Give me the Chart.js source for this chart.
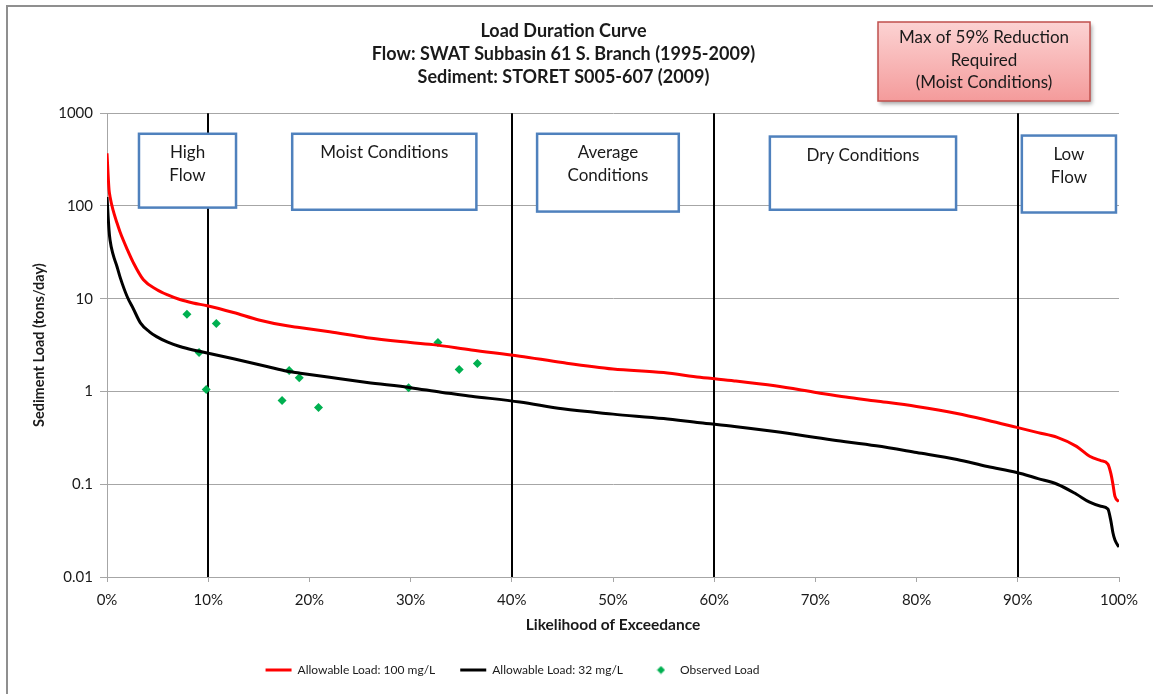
<!DOCTYPE html>
<html>
<head>
<meta charset="utf-8">
<script src="https://cdn.jsdelivr.net/npm/chart.js@4.4.1/dist/chart.umd.min.js"></script>
<style>
  html, body { margin: 0; padding: 0; background: #fff; }
  #wrap { width: 1153px; height: 694px; }
</style>
</head>
<body>
<div id="wrap"><canvas id="ldc" width="1153" height="694"></canvas></div>
<script>
// ---- data ----
const redPct = [0, 0.2, 0.3, 0.6, 1.0, 1.3, 2.0, 2.6, 3.6, 4.9, 6.0, 7.2, 8.5, 9.9, 12.5, 15, 17.8, 19, 22, 25.7, 29, 32.2, 36, 40.8, 45, 50, 55, 58.6, 62, 66, 70.2, 73, 76, 80, 84, 87, 89.9, 92, 93.9, 95.8, 97.1, 98.2, 98.9, 99.2, 99.4, 99.6, 100];
const redLoad = [370, 150, 126, 90, 65, 52, 34, 24.5, 16, 12.6, 11, 9.8, 9.0, 8.4, 7.1, 5.9, 5.1, 4.9, 4.4, 3.8, 3.45, 3.2, 2.8, 2.4, 2.05, 1.75, 1.6, 1.42, 1.3, 1.15, 0.97, 0.87, 0.79, 0.69, 0.58, 0.49, 0.41, 0.36, 0.32, 0.256, 0.2, 0.18, 0.165, 0.13, 0.1, 0.074, 0.065];

const blackPct = [0, 0.2, 0.3, 0.6, 1.0, 1.3, 2.0, 2.6, 3.3, 4.2, 4.9, 6.0, 7.2, 8.5, 9.9, 12.5, 15.8, 17.8, 19, 22, 25.7, 30, 33, 36, 40.8, 45, 50, 55, 58.6, 62, 66, 71.7, 76, 80, 84, 87, 89.9, 92, 93.9, 95.8, 97.1, 98.2, 98.9, 99.2, 99.4, 99.6, 100];
const blackLoad = [125, 55, 43, 30, 22, 17, 10.5, 7.8, 5.5, 4.4, 3.9, 3.4, 3.05, 2.8, 2.6, 2.25, 1.86, 1.65, 1.58, 1.42, 1.25, 1.1, 0.98, 0.89, 0.77, 0.65, 0.57, 0.51, 0.46, 0.42, 0.37, 0.3, 0.26, 0.22, 0.185, 0.155, 0.134, 0.115, 0.1, 0.078, 0.064, 0.058, 0.054, 0.04, 0.03, 0.025, 0.021];

const obsPct = [7.9, 9.1, 9.8, 10.8, 17.3, 18.0, 19.0, 20.9, 29.8, 32.7, 34.8, 36.6];
const obsLoad = [6.8, 2.63, 1.05, 5.4, 0.8, 1.68, 1.41, 0.67, 1.1, 3.37, 1.73, 2.0];

const yTicks = [0.01, 0.1, 1, 10, 100, 1000];
const zoneBreaks = [10, 40, 60, 90];
const zoneBoxes = [
  { x0: 3.16, x1: 12.75, yTop: 600, yBot: 96, lines: ['High', 'Flow'] },
  { x0: 18.3, x1: 36.5, yTop: 600, yBot: 91, lines: ['Moist Conditions'] },
  { x0: 42.5, x1: 56.5, yTop: 600, yBot: 87, lines: ['Average', 'Conditions'] },
  { x0: 65.5, x1: 83.9, yTop: 560, yBot: 91, lines: ['Dry Conditions'] },
  { x0: 90.4, x1: 99.7, yTop: 574, yBot: 85, lines: ['Low', 'Flow'] },
];
const noteLines = ['Max of 59% Reduction', 'Required', '(Moist Conditions)'];

const FONT = "Lato, 'Open Sans', sans-serif";
const TEXT = '#1a1a1a';
const LEGEND_SHIFT = 51; // Excel puts the legend left of the canvas centre

const toXY = (xs, ys) => xs.map((x, i) => ({ x, y: ys[i] }));

// small diamond used only for the legend entry
function diamondIcon() {
  const c = document.createElement('canvas');
  c.width = 9; c.height = 9;
  const g = c.getContext('2d');
  g.fillStyle = '#00b050';
  g.beginPath();
  g.moveTo(4.5, 0.5); g.lineTo(8.5, 4.5); g.lineTo(4.5, 8.5); g.lineTo(0.5, 4.5);
  g.closePath(); g.fill();
  return c;
}
const diamond = diamondIcon();

// ---- annotations: zone lines, zone boxes, outer frame, note box ----
const annotations = {
  id: 'ldcAnnotations',
  afterLayout(chart) {
    if (chart.legend) {
      chart.legend.left -= LEGEND_SHIFT;
      chart.legend.right -= LEGEND_SHIFT;
    }
  },
  beforeDraw(chart) {
    const c = chart.ctx;
    c.save();
    c.fillStyle = '#fff';
    c.fillRect(0, 0, chart.width, chart.height);
    c.fillStyle = '#8f8f8f';
    c.fillRect(6, 5, chart.width - 6, 2);
    c.fillRect(6, 5, 2, chart.height - 5);
    c.restore();
  },
  beforeDatasetsDraw(chart) {
    const { ctx: c, chartArea: { top, bottom } } = chart;
    const xs = chart.scales.x, ys = chart.scales.y;
    c.save();
    c.strokeStyle = '#000';
    c.lineWidth = 2;
    for (const b of zoneBreaks) {
      const px = Math.round(xs.getPixelForValue(b));
      c.beginPath();
      c.moveTo(px, top);
      c.lineTo(px, bottom);
      c.stroke();
    }
    c.font = '17px ' + FONT;
    c.textAlign = 'center';
    c.textBaseline = 'middle';
    for (const bx of zoneBoxes) {
      const l = xs.getPixelForValue(bx.x0), r = xs.getPixelForValue(bx.x1);
      const t = ys.getPixelForValue(bx.yTop), btm = ys.getPixelForValue(bx.yBot);
      c.fillStyle = '#fff';
      c.fillRect(l, t, r - l, btm - t);
      c.strokeStyle = '#4f81bd';
      c.lineWidth = 2.5;
      c.strokeRect(l, t, r - l, btm - t);
      c.fillStyle = TEXT;
      bx.lines.forEach((s, i) => c.fillText(s, (l + r) / 2, t + 19 + i * 23));
    }
    c.restore();
  },
  afterDraw(chart) {
    const c = chart.ctx;
    const x = 878, y = 22, w = 212, h = 79;
    c.save();
    c.shadowColor = 'rgba(0,0,0,0.35)';
    c.shadowBlur = 4;
    c.shadowOffsetX = 2;
    c.shadowOffsetY = 3;
    const grad = c.createLinearGradient(0, y, 0, y + h);
    grad.addColorStop(0, '#fcd3d3');
    grad.addColorStop(1, '#f49b9b');
    c.fillStyle = grad;
    c.fillRect(x, y, w, h);
    c.shadowColor = 'transparent';
    c.strokeStyle = '#c0504d';
    c.lineWidth = 1.5;
    c.strokeRect(x, y, w, h);
    c.fillStyle = TEXT;
    c.font = '17px ' + FONT;
    c.textAlign = 'center';
    c.textBaseline = 'middle';
    noteLines.forEach((s, i) => c.fillText(s, x + w / 2, 38 + i * 22.5));
    c.restore();
  }
};

new Chart(document.getElementById('ldc'), {
  type: 'line',
  data: {
    datasets: [
      {
        label: 'Allowable Load: 100 mg/L',
        data: toXY(redPct, redLoad),
        borderColor: '#ff0000',
        backgroundColor: '#ff0000',
        borderWidth: 3,
        pointRadius: 0,
        pointStyle: 'line',
        cubicInterpolationMode: 'monotone',
      },
      {
        label: 'Allowable Load: 32 mg/L',
        data: toXY(blackPct, blackLoad),
        borderColor: '#000000',
        backgroundColor: '#000000',
        borderWidth: 3,
        pointRadius: 0,
        pointStyle: 'line',
        cubicInterpolationMode: 'monotone',
      },
      {
        type: 'scatter',
        label: 'Observed Load',
        data: toXY(obsPct, obsLoad),
        showLine: false,
        backgroundColor: '#00b050',
        borderColor: '#00b050',
        borderWidth: 0,
        pointStyle: 'rectRot',
        pointRadius: 4.5,
      },
    ],
  },
  options: {
    responsive: false,
    animation: false,
    layout: { padding: { top: 8, left: 8, right: 34, bottom: 8 } },
    scales: {
      x: {
        type: 'linear',
        min: 0,
        max: 100,
        afterFit: s => { s.height = 62; },
        border: { color: '#a6a6a6', width: 1 },
        grid: { drawOnChartArea: false, color: '#a6a6a6', tickLength: 5 },
        ticks: {
          stepSize: 10,
          padding: 9,
          color: TEXT,
          font: { family: FONT, size: 15 },
          callback: v => v + '%',
        },
        title: {
          display: true,
          text: 'Likelihood of Exceedance',
          color: TEXT,
          font: { family: FONT, size: 15.5, weight: 'bold' },
          padding: { top: 0, bottom: 5 },
        },
      },
      y: {
        type: 'logarithmic',
        min: 0.01,
        max: 1000,
        afterFit: s => { s.width = 99; },
        afterBuildTicks: s => { s.ticks = yTicks.map(v => ({ value: v })); },
        border: { color: '#a6a6a6', width: 1 },
        grid: { color: '#a6a6a6', tickLength: 7 },
        ticks: {
          padding: 7,
          color: TEXT,
          font: { family: FONT, size: 15 },
          callback: v => String(v),
        },
        title: {
          display: true,
          text: 'Sediment Load (tons/day)',
          color: TEXT,
          font: { family: FONT, size: 14.5, weight: 'bold' },
          padding: { top: 23, bottom: 0 },
        },
      },
    },
    plugins: {
      title: {
        display: true,
        text: ['Load Duration Curve', 'Flow: SWAT Subbasin 61 S. Branch (1995-2009)', 'Sediment: STORET S005-607 (2009)'],
        color: TEXT,
        font: { family: FONT, size: 18, weight: 'bold', lineHeight: 1.3 },
        padding: { top: 11, bottom: 24 },
      },
      legend: {
        position: 'bottom',
        labels: {
          color: TEXT,
          font: { family: FONT, size: 12 },
          usePointStyle: true,
          pointStyleWidth: 26,
          padding: 25,
          generateLabels: chart => {
            const items = Chart.defaults.plugins.legend.labels.generateLabels(chart);
            items.forEach(it => { if (it.datasetIndex === 2) it.pointStyle = diamond; });
            return items;
          },
        },
      },
      tooltip: { enabled: false },
    },
  },
  plugins: [annotations],
});
</script>
</body>
</html>
